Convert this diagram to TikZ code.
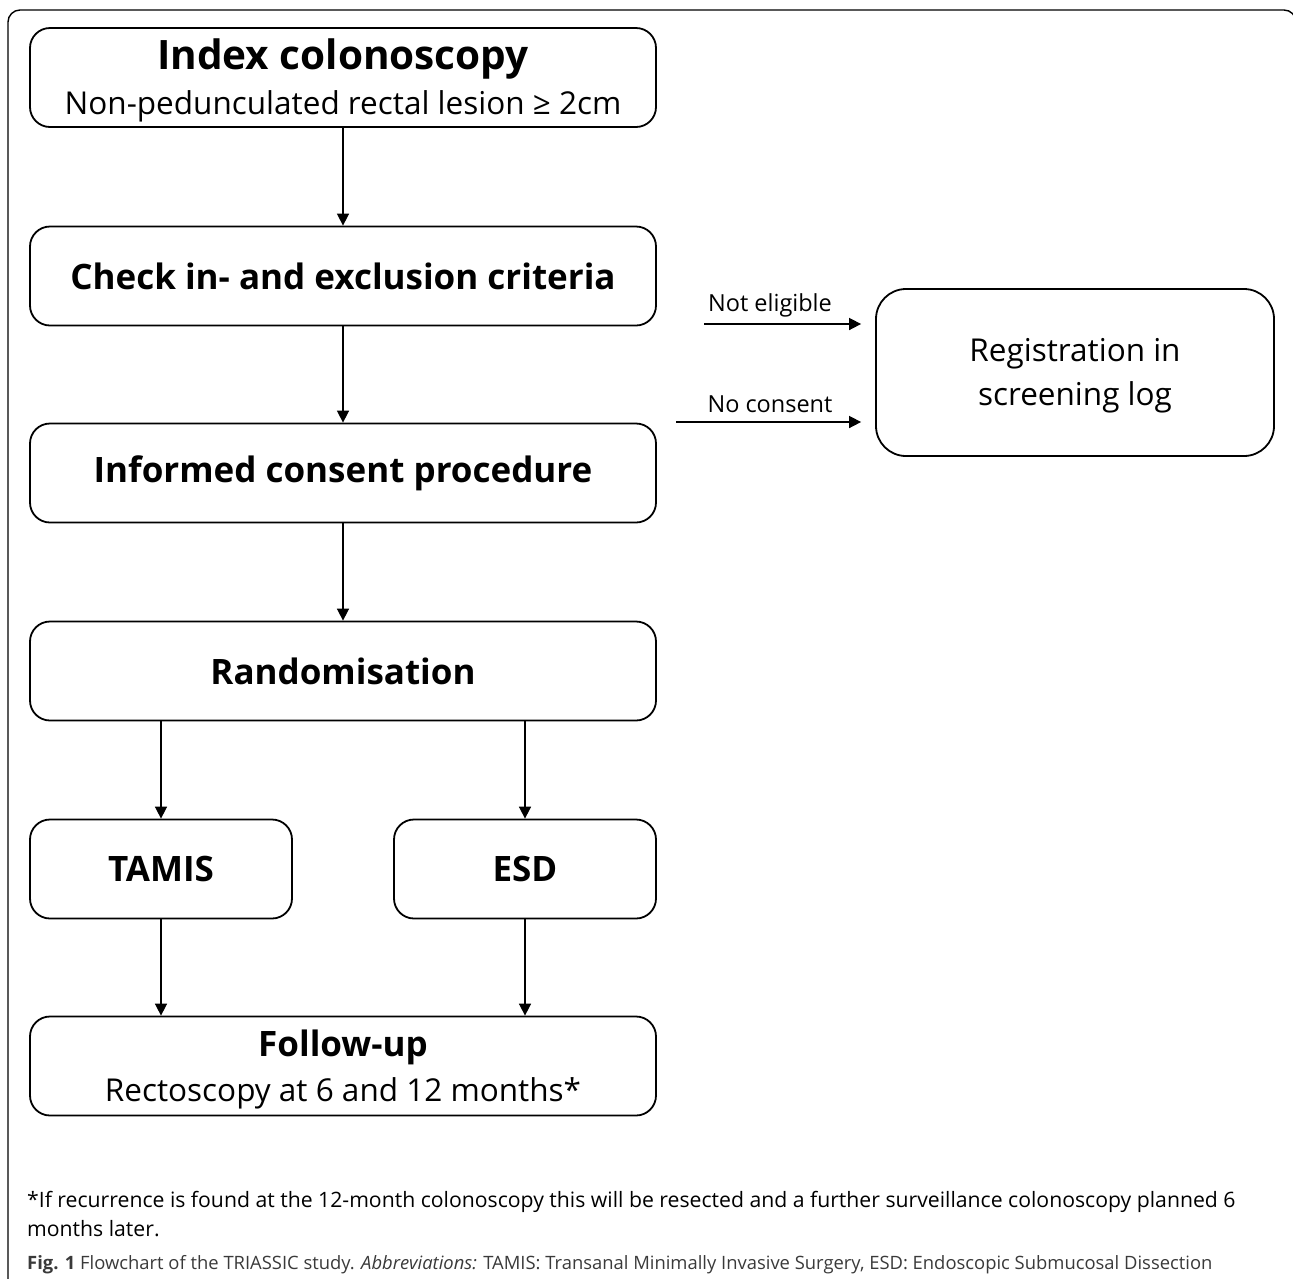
\documentclass[tikz,border=0pt]{standalone}
\usepackage{fontspec}
\setmainfont{Open Sans}
\usetikzlibrary{arrows.meta}
\definecolor{capgray}{HTML}{3A3A3A}
\begin{document}
\begin{tikzpicture}[x=1pt,y=-1pt,
  box/.style={draw,line width=1.8pt,rounded corners=20pt,minimum width=626pt,minimum height=99pt,inner sep=0pt,align=center},
  smallbox/.style={box,minimum width=262pt},
  regbox/.style={box,rounded corners=30pt,minimum width=398pt,minimum height=167pt},
  arr/.style={line width=1.6pt,-{Triangle[length=12pt,width=12pt]}},
  title/.style={font=\bfseries\fontsize{40.5}{46}\selectfont},
  head/.style={font=\bfseries\fontsize{35}{41}\selectfont},
  sub/.style={font=\fontsize{31.5}{44}\selectfont},
  lab/.style={font=\fontsize{23.5}{28}\selectfont}
]
\useasboundingbox (0,0) rectangle (1293,1278);
\begin{scope}
\clip (0,0) rectangle (1293,1278);
\draw[line width=1.4pt,rounded corners=12pt] (8,1300) -- (8,10) -- (1296,10) -- (1296,1300);
\end{scope}

\node[box] (b1) at (343,77.5) {};
\node[title] (t1) at (343,59) {Index colonoscopy};
\node[sub] (s1) at (343,106) {Non-pedunculated rectal lesion ≥ 2cm};
\node[box,head] (b2) at (343,276) {Check in- and exclusion criteria};
\node[box,head] (b3) at (343,473) {Informed consent procedure};
\node[box,head] (b4) at (343,671) {Randomisation};
\node[smallbox,head] (tamis) at (161,869) {TAMIS};
\node[smallbox,head] (esd) at (525,869) {ESD};
\node[box] (b5) at (343,1066) {};
\node[head] (t5) at (343,1047) {Follow-up};
\node[sub] (s5) at (343,1093) {Rectoscopy at 6 and 12 months*};
\node[regbox] (reg) at (1075,372.5) {};
\node[sub,align=center] (regt) at (1075,376) {Registration in\\screening log};

\draw[arr] (b1) -- (b2);
\draw[arr] (b2) -- (b3);
\draw[arr] (b3) -- (b4);
\draw[arr] (b4.south -| tamis.north) -- (tamis);
\draw[arr] (b4.south -| esd.north) -- (esd);
\draw[arr] (tamis) -- (tamis.south |- b5.north);
\draw[arr] (esd) -- (esd.south |- b5.north);

\coordinate (ne) at (704,324);
\coordinate (nc) at (676,422);
\draw[arr,shorten >=14pt] (ne) -- (ne -| reg.west);
\draw[arr,shorten >=14pt] (nc) -- (nc -| reg.west);
\node[lab] (lne) at (770,305) {Not eligible};
\node[lab] (lnc) at (770,404) {No consent};

\node[anchor=west,font=\fontsize{21.2}{25}\selectfont,inner sep=0pt] (fn1) at (27,1202) {*If recurrence is found at the 12-month colonoscopy this will be resected and a further surveillance colonoscopy planned 6};
\node[anchor=west,font=\fontsize{21.2}{25}\selectfont,inner sep=0pt] (fn2) at (27,1229) {months later.};
\node[anchor=west,font=\fontsize{18.4}{22}\selectfont,inner sep=0pt,text=capgray] (cap) at (27,1265) {\textbf{Fig. 1} Flowchart of the TRIASSIC study. \textit{Abbreviations:} TAMIS: Transanal Minimally Invasive Surgery, ESD: Endoscopic Submucosal Dissection};
\end{tikzpicture}
\end{document}
